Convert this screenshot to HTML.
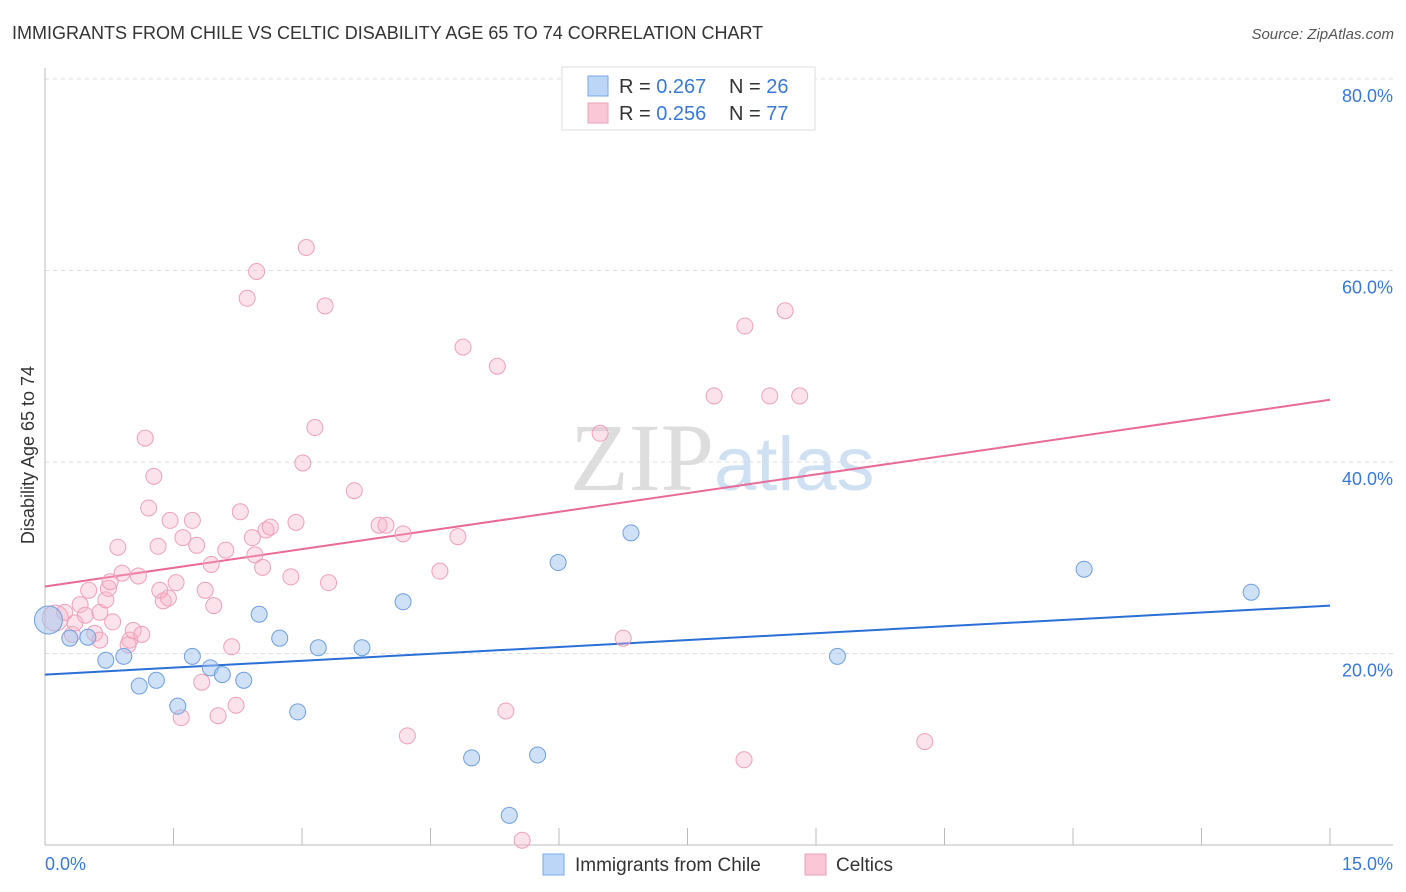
<!DOCTYPE html>
<html><head><meta charset="utf-8"><style>
body{margin:0;background:#fff;font-family:"Liberation Sans",sans-serif;}
#wrap{position:relative;width:1406px;height:892px;overflow:hidden;}
</style></head><body>
<div id="wrap">
<svg id="chart" width="1406" height="892" xmlns="http://www.w3.org/2000/svg">
<text x="12" y="39" font-size="18" fill="#333">IMMIGRANTS FROM CHILE VS CELTIC DISABILITY AGE 65 TO 74 CORRELATION CHART</text>
<text x="1394" y="39" font-size="15" fill="#555" text-anchor="end" font-style="italic">Source: ZipAtlas.com</text>
<text x="714" y="490" font-size="96" fill="#ddd" text-anchor="end" font-family="Liberation Serif">ZIP</text>
<text x="714" y="490" font-size="76" fill="#cfe0f3">atlas</text>
<g id="grid"></g><g id="axes"></g><g id="lines"></g><g id="pts"></g>
<text transform="translate(34,455) rotate(-90)" font-size="18" fill="#333" text-anchor="middle">Disability Age 65 to 74</text>
<g>
<rect x="562" y="67" width="253" height="63" fill="#fff" stroke="#ddd"/>
<rect x="588" y="76" width="20" height="20" fill="#bcd6f7" stroke="#7aaae8"/>
<text x="619" y="93" font-size="20" fill="#333">R = <tspan fill="#3a78d8">0.267</tspan></text>
<text x="729" y="93" font-size="20" fill="#333">N = <tspan fill="#3a78d8">26</tspan></text>
<rect x="588" y="103" width="20" height="20" fill="#f9c7d6" stroke="#eea0b8"/>
<text x="619" y="120" font-size="20" fill="#333">R = <tspan fill="#3a78d8">0.256</tspan></text>
<text x="729" y="120" font-size="20" fill="#333">N = <tspan fill="#3a78d8">77</tspan></text>
</g>
<g>
<rect x="543" y="854" width="21" height="21" fill="#bcd6f7" stroke="#7aaae8"/>
<text x="575" y="871" font-size="19" fill="#333">Immigrants from Chile</text>
<rect x="805" y="854" width="21" height="21" fill="#f9c7d6" stroke="#eea0b8"/>
<text x="836" y="871" font-size="19" fill="#333">Celtics</text>
</g>
</svg>
</div>
<script>
const xTicks=[0,1.5,3,4.5,6,7.5,9,10.5,12,13.5,15];
const yTicks=[20,40,60,80];
const yTickLabels=["20.0%","40.0%","60.0%","80.0%"];
const xEndLabels=["0.0%","15.0%"];
const blueX=[0.04,0.29,0.50,0.71,0.92,1.10,1.30,1.55,1.72,1.93,2.07,2.32,2.50,2.74,2.95,3.19,3.70,4.18,4.98,5.42,5.75,5.99,6.84,9.25,12.13,14.08];
const blueY=[23.5,21.6,21.7,19.3,19.7,16.6,17.2,14.5,19.7,18.5,17.8,17.2,24.1,21.6,13.9,20.6,20.6,25.4,9.1,3.1,9.4,29.5,32.6,19.7,28.8,26.4];
const pinkX=[0.12,0.23,0.32,0.41,0.47,0.51,0.58,0.64,0.71,0.74,0.79,0.85,0.90,0.99,1.03,1.09,1.13,1.17,1.21,1.27,1.32,1.38,1.44,1.46,1.53,1.59,1.61,1.72,1.77,1.87,1.94,1.97,1.83,2.02,2.11,2.18,2.23,2.28,2.36,2.42,2.45,2.47,2.54,2.58,2.63,2.87,2.93,3.01,3.05,3.15,3.27,3.31,3.61,3.90,3.98,4.18,4.23,4.61,4.82,4.88,5.28,5.38,5.57,6.48,6.75,7.81,8.16,8.17,8.46,8.64,8.81,10.27,0.35,0.64,0.76,0.97,1.34];
const pinkY=[23.7,24.3,22.0,25.1,24.0,26.6,22.1,24.3,25.6,26.8,23.3,31.1,28.4,21.4,22.4,28.1,22.0,42.5,35.2,38.5,31.2,25.5,25.8,33.9,27.4,13.3,32.1,33.9,31.3,26.6,29.3,25.0,17.0,13.5,30.8,20.7,14.6,34.8,57.1,32.1,30.3,59.9,29.0,32.9,33.2,28.0,33.7,39.9,62.4,43.6,56.3,27.4,37.0,33.4,33.4,32.5,11.4,28.6,32.2,52.0,50.0,14.0,0.5,43.0,21.6,46.9,8.9,54.2,46.9,55.8,46.9,10.8,23.2,21.4,27.5,20.9,26.6];
const blueTrend=[17.8,25.0];
const pinkTrend=[27.0,46.5];
const NS="http://www.w3.org/2000/svg";
const X=v=>45+v/15*1285, Y=v=>845-v/20*191.5;
function mk(g,tag,a){const e=document.createElementNS(NS,tag);for(const k in a)e.setAttribute(k,a[k]);document.getElementById(g).appendChild(e);return e;}
yTicks.forEach((t,i)=>{
 const l=mk('grid','line',{x1:45,x2:1393,y1:Y(t),y2:Y(t),stroke:'#ddd','stroke-dasharray':'4,4'});
 
 
 const tx=mk('axes','text',{x:1393,y:Y(t)+23,'font-size':18,fill:'#3a78d8','text-anchor':'end'});
 tx.textContent=yTickLabels[i];
 
 
});
const topLine=mk('grid','line',{x1:45,x2:1393,y1:79,y2:79,stroke:'#ddd','stroke-dasharray':'4,4'});


const ya=mk('axes','line',{x1:45,x2:45,y1:68,y2:845,stroke:'#bbb'});


const xa=mk('axes','line',{x1:45,x2:1393,y1:845,y2:845,stroke:'#bbb'});


xTicks.forEach(t=>{
 const l=mk('axes','line',{x1:X(t),x2:X(t),y1:828,y2:845,stroke:'#bbb'});
 
 
});
const xl0=mk('axes','text',{x:45,y:870,'font-size':18,fill:'#3a78d8'});xl0.textContent=xEndLabels[0];


const xl1=mk('axes','text',{x:1393,y:870,'font-size':18,fill:'#3a78d8','text-anchor':'end'});xl1.textContent=xEndLabels[1];


pinkX.forEach((v,i)=>{
 const c=mk('pts','circle',{cx:X(v),cy:Y(pinkY[i]),r:i===0?13:8,fill:'rgba(246,176,199,0.35)',stroke:'#eea0b8','stroke-width':1});
 
 
});
blueX.forEach((v,i)=>{
 const c=mk('pts','circle',{cx:X(v),cy:Y(blueY[i]),r:i===0?14:8,fill:'rgba(160,196,240,0.5)',stroke:'#6f9fe0','stroke-width':1});
 
 
});
const bl=mk('lines','line',{x1:X(0),x2:X(15),y1:Y(blueTrend[0]),y2:Y(blueTrend[1]),stroke:'#2a6fd6','stroke-width':2});


const pl=mk('lines','line',{x1:X(0),x2:X(15),y1:Y(pinkTrend[0]),y2:Y(pinkTrend[1]),stroke:'#e86a98','stroke-width':2});


</script>
</body></html>
